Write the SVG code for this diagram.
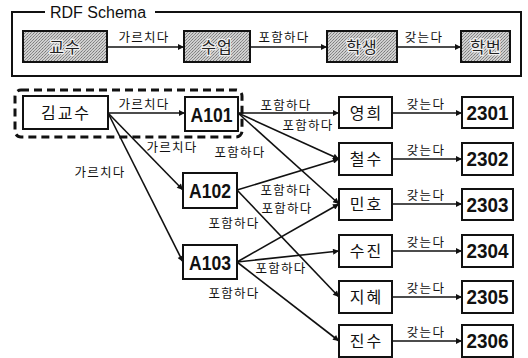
<svg xmlns="http://www.w3.org/2000/svg" width="528" height="358" viewBox="0 0 528 358">
<defs>
<pattern id="dither" width="3" height="3" patternUnits="userSpaceOnUse">
<rect width="3" height="3" fill="#cfcfcf"/>
<rect x="0" y="0" width="1" height="1" fill="#7a7a7a"/>
<rect x="2" y="1" width="1" height="1" fill="#8a8a8a"/>
<rect x="1" y="2" width="1" height="1" fill="#909090"/>
</pattern>
<marker id="arr" viewBox="0 0 10 10" refX="10" refY="5" markerWidth="7" markerHeight="6" markerUnits="userSpaceOnUse" orient="auto">
<path d="M0,0 L10,5 L0,10 z" fill="#111"/>
</marker>
<style>
.frame{fill:none;stroke:#111;stroke-width:2}
.gbox{fill:url(#dither);stroke:#111;stroke-width:2}
.box{fill:#fff;stroke:#111;stroke-width:2}
.kt{font-family:"Noto Sans CJK KR",sans-serif;fill:#111;text-anchor:middle}
.node{font-size:16px;letter-spacing:2px}
.gnode{font-size:16px;fill:#222;stroke:#eee;stroke-width:2.5px;paint-order:stroke;letter-spacing:1px}
.lbl{font-size:12.5px;letter-spacing:1.3px}
.num{font-family:"Liberation Sans",Arial,sans-serif;font-weight:bold;font-size:20px;fill:#111;text-anchor:middle}
.edge{stroke:#111;stroke-width:1.6;fill:none;marker-end:url(#arr)}
.title{font-family:"Liberation Sans",Arial,sans-serif;font-size:16px;fill:#111}
.dash{fill:none;stroke:#111;stroke-width:3;stroke-dasharray:8 5}
</style>
</defs>
<rect width="528" height="358" fill="#fff"/>

<g id="schema-frame">
<path class="frame" d="M45,12 H12 V76 H521 V12 H155"/>
<text class="title" x="50" y="18">RDF Schema</text>
</g>

<g id="dashed-group">
<rect class="dash" x="15" y="90" width="227" height="47" rx="6"/>
</g>

<g id="connectors">
<line class="edge" x1="107" y1="47" x2="184" y2="47"/>
<line class="edge" x1="250" y1="47" x2="327" y2="47"/>
<line class="edge" x1="397" y1="47" x2="461" y2="47"/>

<line class="edge" x1="108" y1="113" x2="185" y2="113"/>
<line class="edge" x1="108" y1="113" x2="183" y2="190"/>
<line class="edge" x1="108" y1="113" x2="183" y2="262"/>

<line class="edge" x1="238" y1="113" x2="339" y2="113"/>
<line class="edge" x1="238" y1="113" x2="339" y2="159"/>
<line class="edge" x1="238" y1="113" x2="339" y2="204"/>
<line class="edge" x1="237" y1="190" x2="339" y2="159"/>
<line class="edge" x1="237" y1="190" x2="339" y2="297"/>
<line class="edge" x1="237" y1="262" x2="339" y2="204"/>
<line class="edge" x1="237" y1="262" x2="339" y2="251"/>
<line class="edge" x1="237" y1="262" x2="339" y2="341"/>

<line class="edge" x1="392" y1="113" x2="462" y2="113"/>
<line class="edge" x1="392" y1="159" x2="462" y2="159"/>
<line class="edge" x1="392" y1="204" x2="462" y2="204"/>
<line class="edge" x1="392" y1="251" x2="462" y2="251"/>
<line class="edge" x1="392" y1="297" x2="462" y2="297"/>
<line class="edge" x1="392" y1="341" x2="462" y2="341"/>

<text class="kt lbl" x="144" y="42">가르치다</text>
<text class="kt lbl" x="284" y="42">포함하다</text>
<text class="kt lbl" x="424" y="42">갖는다</text>

<text class="kt lbl" x="144" y="109">가르치다</text>
<text class="kt lbl" x="172" y="152">가르치다</text>
<text class="kt lbl" x="100" y="177">가르치다</text>

<text class="kt lbl" x="286" y="110">포함하다</text>
<text class="kt lbl" x="308" y="130">포함하다</text>
<text class="kt lbl" x="240" y="157">포함하다</text>
<text class="kt lbl" x="286" y="195">포함하다</text>
<text class="kt lbl" x="287" y="213">포함하다</text>
<text class="kt lbl" x="234" y="228">포함하다</text>
<text class="kt lbl" x="281" y="273">포함하다</text>
<text class="kt lbl" x="234" y="298">포함하다</text>

<text class="kt lbl" x="426" y="109">갖는다</text>
<text class="kt lbl" x="426" y="155">갖는다</text>
<text class="kt lbl" x="426" y="200">갖는다</text>
<text class="kt lbl" x="426" y="247">갖는다</text>
<text class="kt lbl" x="426" y="293">갖는다</text>
<text class="kt lbl" x="426" y="337">갖는다</text>
</g>

<g id="n-gyosu"><rect class="gbox" x="23" y="31" width="84" height="31"/><text class="kt gnode" x="65" y="53">교수</text></g>
<g id="n-sueop"><rect class="gbox" x="184" y="31" width="66" height="31"/><text class="kt gnode" x="217" y="53">수업</text></g>
<g id="n-haksaeng"><rect class="gbox" x="327" y="31" width="70" height="31"/><text class="kt gnode" x="362" y="53">학생</text></g>
<g id="n-hakbeon"><rect class="gbox" x="461" y="31" width="49" height="31"/><text class="kt gnode" x="486" y="53">학번</text></g>

<g id="n-kim"><rect class="box" x="23" y="96" width="85" height="33"/><text class="kt node" x="66" y="119">김교수</text></g>
<g id="n-a101"><rect class="box" x="185" y="97" width="53" height="34"/><text class="num" x="211.5" y="122" textLength="42" lengthAdjust="spacingAndGlyphs">A101</text></g>
<g id="n-a102"><rect class="box" x="183" y="173" width="54" height="35"/><text class="num" x="210" y="198" textLength="42" lengthAdjust="spacingAndGlyphs">A102</text></g>
<g id="n-a103"><rect class="box" x="183" y="245" width="54" height="34"/><text class="num" x="210" y="270" textLength="42" lengthAdjust="spacingAndGlyphs">A103</text></g>

<g id="n-younghee"><rect class="box" x="339" y="97" width="53" height="31"/><text class="kt node" x="366.5" y="119">영희</text></g>
<g id="n-cheolsu"><rect class="box" x="339" y="143" width="53" height="32"/><text class="kt node" x="366.5" y="165">철수</text></g>
<g id="n-minho"><rect class="box" x="339" y="189" width="53" height="31"/><text class="kt node" x="366.5" y="210">민호</text></g>
<g id="n-sujin"><rect class="box" x="339" y="235" width="53" height="32"/><text class="kt node" x="366.5" y="257">수진</text></g>
<g id="n-jihye"><rect class="box" x="339" y="281" width="53" height="32"/><text class="kt node" x="366.5" y="303">지혜</text></g>
<g id="n-jinsu"><rect class="box" x="339" y="325" width="53" height="32"/><text class="kt node" x="366.5" y="347">진수</text></g>

<g id="n-2301"><rect class="box" x="462" y="97" width="51" height="31"/><text class="num" x="487.5" y="120" textLength="42" lengthAdjust="spacingAndGlyphs">2301</text></g>
<g id="n-2302"><rect class="box" x="462" y="143" width="51" height="32"/><text class="num" x="487.5" y="166" textLength="42" lengthAdjust="spacingAndGlyphs">2302</text></g>
<g id="n-2303"><rect class="box" x="462" y="189" width="51" height="31"/><text class="num" x="487.5" y="212" textLength="42" lengthAdjust="spacingAndGlyphs">2303</text></g>
<g id="n-2304"><rect class="box" x="462" y="235" width="51" height="32"/><text class="num" x="487.5" y="258" textLength="42" lengthAdjust="spacingAndGlyphs">2304</text></g>
<g id="n-2305"><rect class="box" x="462" y="281" width="51" height="32"/><text class="num" x="487.5" y="304" textLength="42" lengthAdjust="spacingAndGlyphs">2305</text></g>
<g id="n-2306"><rect class="box" x="462" y="325" width="51" height="32"/><text class="num" x="487.5" y="348" textLength="42" lengthAdjust="spacingAndGlyphs">2306</text></g>
</svg>
